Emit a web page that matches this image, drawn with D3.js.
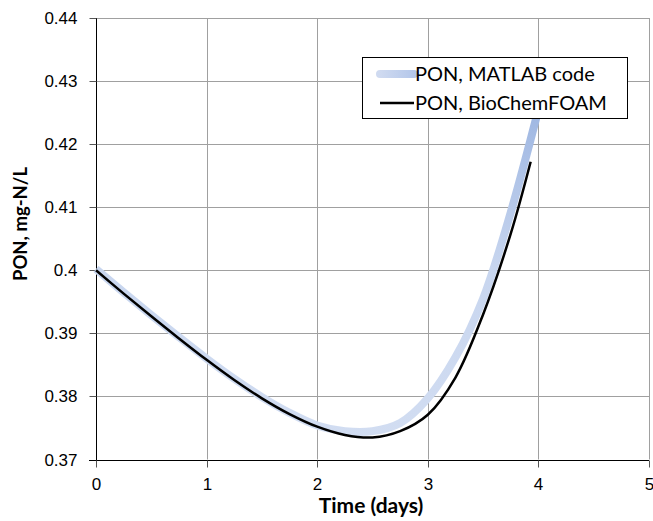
<!DOCTYPE html>
<html>
<head>
<meta charset="utf-8">
<script src="https://cdn.jsdelivr.net/npm/d3@7"></script>
<style>
  body { margin: 0; background: #fff; }
  svg { display: block; font-family: Lato, 'Open Sans', sans-serif; }
</style>
</head>
<body>
<svg id="chart" width="653" height="521"></svg>
<script>
// days
const timeMatlab = [0, 0.25, 0.5, 0.75, 1, 1.25, 1.5, 1.75, 2, 2.25, 2.5, 2.75, 3, 3.25, 3.5, 3.75, 4];
const ponMatlab = [0.4002, 0.3965, 0.3929, 0.3894, 0.3860, 0.3828, 0.3799, 0.3774, 0.3754, 0.3745, 0.3745, 0.3758, 0.3797, 0.3862, 0.3955, 0.4092, 0.4255];

const timeFoam = [0, 0.25, 0.5, 0.75, 1, 1.25, 1.5, 1.75, 2, 2.25, 2.5, 2.75, 3, 3.25, 3.5, 3.75, 3.93];
const ponFoam = [0.4000, 0.3963, 0.3927, 0.3892, 0.3858, 0.3826, 0.3797, 0.3772, 0.3752, 0.3739, 0.3735, 0.3745, 0.3771, 0.3830, 0.3930, 0.4058, 0.4172];

const xTicks = [0, 1, 2, 3, 4, 5];
const yTicks = [0.37, 0.38, 0.39, 0.40, 0.41, 0.42, 0.43, 0.44];
const yTickLabels = ['0.37', '0.38', '0.39', '0.4', '0.41', '0.42', '0.43', '0.44'];
const seriesNames = ['PON, MATLAB code', 'PON, BioChemFOAM'];

const svg = d3.select('#chart');

const xScale = d3.scaleLinear().domain([0, 5]).range([96, 649]);
const yScale = d3.scaleLinear().domain([0.37, 0.44]).range([459.5, 18]);
const px = v => Math.round(v) + 0.5;

const defs = svg.append('defs');
const grad = defs.append('linearGradient')
  .attr('id', 'blueGrad')
  .attr('gradientUnits', 'userSpaceOnUse')
  .attr('x1', 0).attr('x2', 0)
  .attr('y1', yScale(0.37)).attr('y2', yScale(0.425));
grad.append('stop').attr('offset', '0%').attr('stop-color', '#d3def2');
grad.append('stop').attr('offset', '55%').attr('stop-color', '#c8d6ef');
grad.append('stop').attr('offset', '100%').attr('stop-color', '#9fb7e2');

const legGrad = defs.append('linearGradient').attr('id', 'legGrad');
legGrad.append('stop').attr('offset', '0%').attr('stop-color', '#cfdaf0');
legGrad.append('stop').attr('offset', '100%').attr('stop-color', '#b4c7ea');

// grid
svg.append('g')
  .selectAll('line')
  .data(xTicks.slice(1))
  .enter()
  .append('line')
  .attr('x1', d => px(xScale(d)))
  .attr('x2', d => px(xScale(d)))
  .attr('y1', yScale(0.44))
  .attr('y2', yScale(0.37))
  .attr('stroke', '#a0a0a0');

svg.append('g')
  .selectAll('line')
  .data(yTicks.slice(1))
  .enter()
  .append('line')
  .attr('x1', xScale(0))
  .attr('x2', xScale(5))
  .attr('y1', d => px(yScale(d)))
  .attr('y2', d => px(yScale(d)))
  .attr('stroke', '#a0a0a0');

// axes
const yAxis = d3.axisLeft(yScale)
  .tickValues(yTicks)
  .tickSize(7)
  .tickPadding(12)
  .tickFormat((d, i) => yTickLabels[i]);

const xAxis = d3.axisBottom(xScale)
  .tickValues(xTicks)
  .tickSize(7)
  .tickPadding(10)
  .tickFormat(d3.format('d'));

const gy = svg.append('g')
  .attr('transform', `translate(${px(xScale(0))},0)`)
  .call(yAxis);
gy.selectAll('.tick').attr('transform', d => `translate(0,${px(yScale(d))})`);

const gx = svg.append('g')
  .attr('transform', `translate(0,${px(yScale(0.37))})`)
  .call(xAxis);
gx.selectAll('.tick').attr('transform', d => `translate(${px(xScale(d))},0)`);

[gx, gy].forEach((g) => {
  g.select('.domain').attr('stroke', '#000').attr('stroke-width', 1);
  g.selectAll('.tick line').attr('stroke', '#555');
  g.selectAll('.tick text')
    .attr('fill', '#000')
    .style('font-size', '17px');
});
gy.select('.domain').attr('d', `M0,${yScale(0.44)}V${yScale(0.37) + 7}`);
gx.select('.domain').attr('d', `M${xScale(0) - 7},0H${xScale(5)}`);

// titles
svg.append('text')
  .attr('x', 371)
  .attr('y', 513)
  .attr('text-anchor', 'middle')
  .style('font-weight', 'bold')
  .style('font-size', '21px')
  .text('Time (days)');

svg.append('text')
  .attr('transform', 'translate(27,224) rotate(-90)')
  .attr('text-anchor', 'middle')
  .style('font-weight', 'bold')
  .style('font-size', '18.5px')
  .text('PON, mg-N/L');

// lines
const line = d3.line()
  .x(d => xScale(d[0]))
  .y(d => yScale(d[1]))
  .curve(d3.curveCatmullRom.alpha(0.5));

svg.append('path')
  .datum(d3.zip(timeMatlab, ponMatlab))
  .attr('d', line)
  .attr('fill', 'none')
  .attr('stroke', 'url(#blueGrad)')
  .attr('stroke-width', 8);

svg.append('path')
  .datum(d3.zip(timeFoam, ponFoam))
  .attr('d', line)
  .attr('fill', 'none')
  .attr('stroke', '#000')
  .attr('stroke-width', 2.5);

// legend
const legend = svg.append('g');
legend.append('rect')
  .attr('x', 362.5)
  .attr('y', 57.5)
  .attr('width', 265)
  .attr('height', 61)
  .attr('fill', '#fff')
  .attr('stroke', '#000');

const rows = legend.selectAll('.row')
  .data(seriesNames)
  .enter()
  .append('g')
  .attr('class', 'row')
  .attr('transform', (d, i) => `translate(0,${74 + i * 29})`);

rows.append('line')
  .attr('x1', 380)
  .attr('x2', 414)
  .attr('y1', 0)
  .attr('y2', 0.01)
  .attr('stroke', (d, i) => (i === 0 ? 'url(#legGrad)' : '#000'))
  .attr('stroke-width', (d, i) => (i === 0 ? 8 : 2.5))
  .attr('stroke-linecap', (d, i) => (i === 0 ? 'round' : 'butt'));

rows.append('text')
  .attr('x', 415)
  .attr('y', 7)
  .style('font-size', '20px')
  .text(d => d);
</script>
</body>
</html>
